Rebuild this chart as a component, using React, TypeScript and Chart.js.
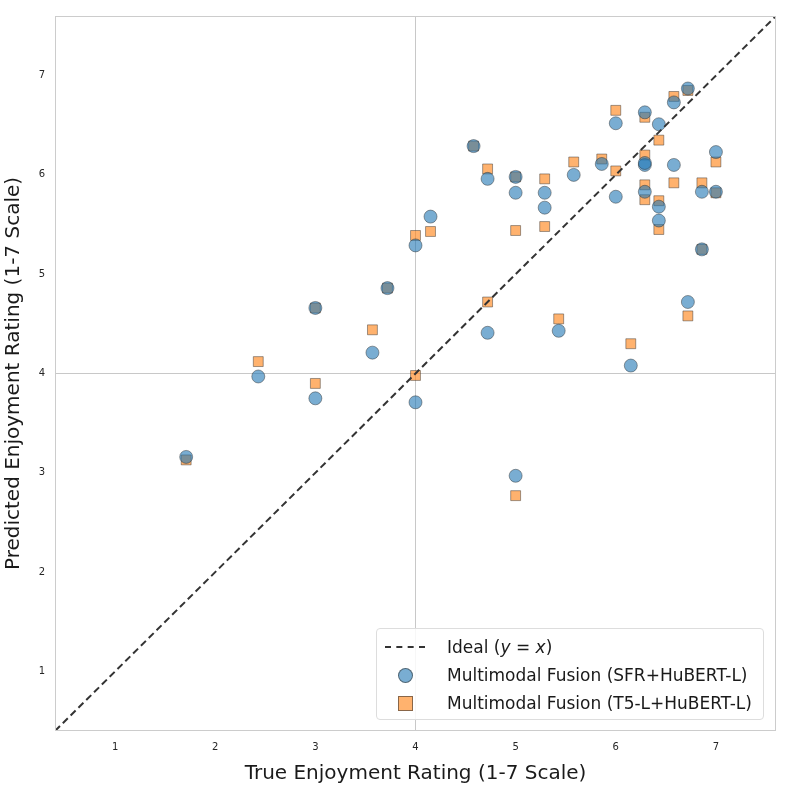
import React, { useEffect, useRef } from "react";
import { Chart, registerables } from "chart.js";
Chart.register(...registerables);

const trueRating = [1.71, 2.43, 3.0, 3.0, 3.57, 3.72, 4.0, 4.0, 4.15, 4.58, 4.72, 4.72, 5.0, 5.0, 5.0, 5.29, 5.29, 5.43, 5.58, 5.86, 6.0, 6.0, 6.15, 6.29, 6.29, 6.29, 6.29, 6.43, 6.43, 6.43, 6.58, 6.58, 6.72, 6.72, 6.86, 6.86, 7.0, 7.0];
const sfrPred = [3.16, 3.97, 3.75, 4.66, 4.21, 4.86, 5.29, 3.71, 5.58, 6.29, 5.96, 4.41, 5.98, 5.82, 2.97, 5.82, 5.67, 4.43, 6.0, 6.11, 6.52, 5.78, 4.08, 6.63, 6.1, 6.12, 5.83, 6.51, 5.68, 5.54, 6.73, 6.1, 6.87, 4.72, 5.83, 5.25, 6.23, 5.83];
const t5Pred = [3.13, 4.12, 3.9, 4.66, 4.44, 4.86, 5.39, 3.98, 5.43, 6.29, 6.06, 4.72, 5.98, 5.44, 2.77, 5.96, 5.48, 4.55, 6.13, 6.16, 6.65, 6.04, 4.3, 6.58, 6.2, 5.9, 5.75, 6.35, 5.74, 5.45, 6.79, 5.92, 6.85, 4.58, 5.92, 5.25, 6.13, 5.82];
const tickValues = [1, 2, 3, 4, 5, 6, 7];
const axisMin = 0.4;
const axisMax = 7.6;

const BLUE = "rgba(31,119,180,0.6)";
const ORANGE = "rgba(255,127,14,0.6)";
const EDGE = "rgba(40,40,40,0.55)";

export default function App() {
  const ref = useRef<HTMLCanvasElement>(null);
  useEffect(() => {
    document.body.style.margin = "0";
    const frame = {
      id: "frame",
      afterDraw(c: any) {
        const a = c.chartArea;
        const ctx = c.ctx;
        ctx.save();
        ctx.strokeStyle = "#cccccc";
        ctx.lineWidth = 1;
        ctx.strokeRect(a.left + 0.5, a.top + 0.5, a.right - a.left - 1, a.bottom - a.top - 1);
        ctx.restore();
      },
    };
    const scaleOpts = (title: string, isY: boolean) => ({
      type: "linear" as const,
      min: axisMin,
      max: axisMax,
      afterBuildTicks: (s: any) => { s.ticks = tickValues.map((v) => ({ value: v })); },
      afterFit: (s: any) => { if (isY) s.width = 55; else s.height = 59; },
      grid: {
        color: (ctx: any) => (ctx.tick && ctx.tick.value === 4 ? "#c8c8c8" : "rgba(0,0,0,0)"),
        drawTicks: false,
        lineWidth: 1,
      },
      border: { display: false },
      ticks: { color: "#262626", font: { size: 10, family: "DejaVu Sans" }, padding: 10 },
      title: { display: true, text: title, color: "#1a1a1a", font: { size: 20, family: "DejaVu Sans" }, padding: { top: 2, bottom: 4 } },
    });
    const chart = new Chart(ref.current!, {
      type: "scatter",
      data: {
        datasets: [
          {
            type: "line",
            label: "Ideal",
            data: [{ x: axisMin, y: axisMin }, { x: axisMax, y: axisMax }],
            borderColor: "#333333",
            borderWidth: 2,
            borderDash: [7, 4],
            pointRadius: 0,
          } as any,
          {
            label: "SFR",
            data: trueRating.map((x, i) => ({ x, y: sfrPred[i] })),
            backgroundColor: BLUE,
            borderColor: EDGE,
            borderWidth: 0.8,
            pointStyle: "circle",
            pointRadius: 6.5,
          },
          {
            label: "T5",
            data: trueRating.map((x, i) => ({ x, y: t5Pred[i] })),
            backgroundColor: ORANGE,
            borderColor: EDGE,
            borderWidth: 0.8,
            pointStyle: "rect",
            pointRadius: 7,
          },
        ],
      },
      options: {
        animation: false,
        responsive: false,
        layout: { padding: { left: 0, right: 10, top: 10, bottom: 0 } },
        plugins: { legend: { display: false }, tooltip: { enabled: false } },
        scales: { x: scaleOpts("True Enjoyment Rating (1-7 Scale)", false), y: scaleOpts("Predicted Enjoyment Rating (1-7 Scale)", true) },
      },
      plugins: [frame],
    });
    return () => chart.destroy();
  }, []);

  const row: React.CSSProperties = { display: "flex", alignItems: "center", height: 28 };
  const sw: React.CSSProperties = { width: 40, display: "flex", justifyContent: "center", marginRight: 22 };
  return (
    <div style={{ position: "relative", width: 786, height: 790, fontFamily: "DejaVu Sans" }}>
      <canvas ref={ref} width={786} height={790} />
      <div style={{ position: "absolute", left: 376, top: 628, width: 388, height: 92, boxSizing: "border-box", border: "1px solid #dddddd", borderRadius: 4, background: "rgba(255,255,255,0.85)", padding: "4px 0 0 8px", fontSize: 17, color: "#1a1a1a" }}>
        <div style={row}>
          <div style={sw}><div style={{ width: 40, borderTop: "2px dashed #333" }} /></div>
          <span>Ideal (<i>y</i> = <i>x</i>)</span>
        </div>
        <div style={row}>
          <div style={sw}><div style={{ width: 13, height: 13, borderRadius: "50%", background: BLUE, border: "1px solid " + EDGE }} /></div>
          <span>Multimodal Fusion (SFR+HuBERT-L)</span>
        </div>
        <div style={row}>
          <div style={sw}><div style={{ width: 13, height: 13, background: ORANGE, border: "1px solid " + EDGE }} /></div>
          <span>Multimodal Fusion (T5-L+HuBERT-L)</span>
        </div>
      </div>
    </div>
  );
}
